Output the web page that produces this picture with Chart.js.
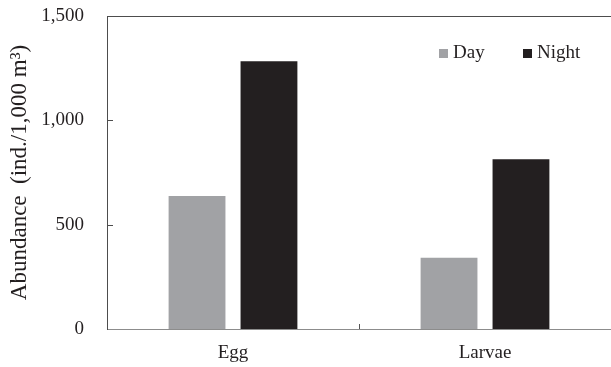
<!DOCTYPE html>
<html>
<head>
<meta charset="utf-8">
<script src="https://cdn.jsdelivr.net/npm/chart.js@4"></script>
<style>
  html, body { margin: 0; padding: 0; background: #fff; }
  #wrap { width: 611px; height: 367px; }
</style>
</head>
<body>
<div id="wrap"><canvas id="c" width="611" height="367"></canvas></div>
<script>
// Abundance of eggs and larvae, day vs night (ind./1,000 m³)
const categories = ['Egg', 'Larvae'];
const seriesNames = ['Day', 'Night'];
const dayValues = [637, 342];
const nightValues = [1283, 813];
const yTicks = [0, 500, 1000, 1500];

const FONT = '"Liberation Serif", "Times New Roman", serif';
const DAY_COLOR = '#a1a2a5';
const NIGHT_COLOR = '#231f20';

// Frame line on top, inward tick marks, and the in-plot legend
const decorations = {
  id: 'decorations',
  afterDraw(chart) {
    const ctx = chart.ctx;
    const a = chart.chartArea;
    const y = chart.scales.y;
    const x = chart.scales.x;
    ctx.save();
    ctx.strokeStyle = '#4d4d4d';
    ctx.lineWidth = 1;
    ctx.beginPath();
    ctx.moveTo(a.left, a.top + 0.5);
    ctx.lineTo(a.right, a.top + 0.5);
    ctx.stroke();
    // y ticks pointing into the plot
    yTicks.forEach(v => {
      if (v === 0 || v === 1500) return;
      const py = Math.round(y.getPixelForValue(v)) + 0.5;
      ctx.beginPath();
      ctx.moveTo(a.left, py);
      ctx.lineTo(a.left + 6, py);
      ctx.stroke();
    });
    // category divider tick on the x axis
    ctx.strokeStyle = '#555';
    for (let i = 1; i < categories.length; i++) {
      const px = Math.round((x.getPixelForValue(i - 1) + x.getPixelForValue(i)) / 2) + 0.5;
      ctx.beginPath();
      ctx.moveTo(px, a.bottom);
      ctx.lineTo(px, a.bottom - 5);
      ctx.stroke();
    }
    // legend
    const items = [
      { label: seriesNames[0], color: DAY_COLOR, x: a.right - 172 },
      { label: seriesNames[1], color: NIGHT_COLOR, x: a.right - 88 }
    ];
    ctx.font = '19px ' + FONT;
    ctx.textBaseline = 'middle';
    ctx.textAlign = 'left';
    items.forEach(it => {
      ctx.fillStyle = it.color;
      ctx.fillRect(it.x, a.top + 33, 9, 9);
      ctx.fillStyle = '#231f20';
      ctx.fillText(it.label, it.x + 14, a.top + 37);
    });
    ctx.restore();
  }
};

new Chart(document.getElementById('c'), {
  type: 'bar',
  data: {
    labels: categories,
    datasets: [
      { label: seriesNames[0], data: dayValues, backgroundColor: DAY_COLOR,
        categoryPercentage: 0.571, barPercentage: 0.79 },
      { label: seriesNames[1], data: nightValues, backgroundColor: NIGHT_COLOR,
        categoryPercentage: 0.571, barPercentage: 0.79 }
    ]
  },
  options: {
    responsive: false,
    animation: false,
    layout: { padding: { top: 16, right: 0, left: 0, bottom: 0 } },
    plugins: { legend: { display: false }, tooltip: { enabled: false } },
    scales: {
      x: {
        grid: { display: false, drawTicks: false },
        border: { display: true, color: '#8c8c8c', width: 1 },
        ticks: { color: '#231f20', font: { family: FONT, size: 19 }, padding: 13 },
        afterFit(s) { s.height = 38; s.paddingLeft = 0; s.paddingRight = 0; }
      },
      y: {
        min: 0, max: 1500,
        afterBuildTicks(s) { s.ticks = yTicks.map(v => ({ value: v })); },
        grid: { display: false, drawTicks: false },
        border: { display: true, color: '#4d4d4d', width: 1 },
        ticks: {
          color: '#231f20', font: { family: FONT, size: 19 }, padding: 23,
          callback: v => v.toLocaleString('en-US')
        },
        title: {
          display: true, text: 'Abundance  (ind./1,000 m³)',
          color: '#231f20', font: { family: FONT, size: 23 },
          padding: { top: 6, bottom: 0 }
        },
        afterFit(s) { s.width = 107; s.paddingTop = 0; s.paddingBottom = 0; }
      }
    }
  },
  plugins: [decorations]
});
</script>
</body>
</html>
